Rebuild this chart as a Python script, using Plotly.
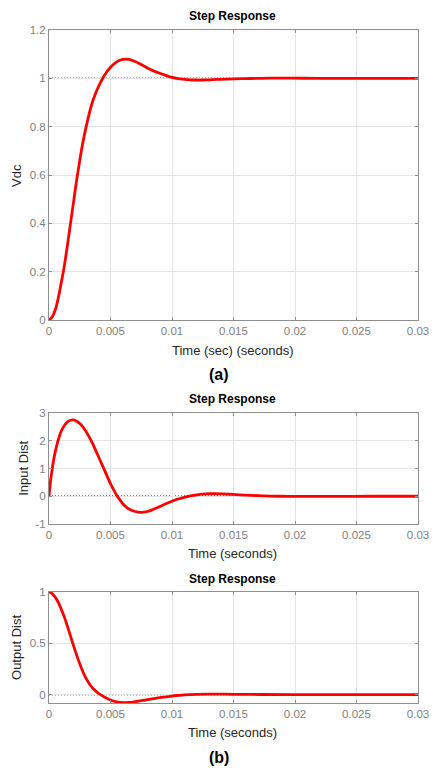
import plotly.graph_objects as go

# ---------------- data ----------------
# time in milliseconds (converted to seconds when plotting)
t_vdc_ms = [0, 0.25, 0.5, 0.75, 1.0, 1.25, 1.5, 1.75, 2.0, 2.25, 2.5, 2.75, 3.0,
            3.25, 3.5, 3.75, 4.0, 4.5, 5.0, 5.5, 6.0, 6.5, 7.0, 7.5, 8.0, 8.5, 9.0, 9.5,
            10.0, 10.5, 11.0, 11.5, 12.0, 12.5, 13.0, 14.0, 15.0, 16.0, 17.0,
            18.0, 20.0, 22.0, 25.0, 30.0]
vdc = [0, 0.012, 0.040, 0.09, 0.155, 0.225, 0.31, 0.40, 0.49, 0.58, 0.66, 0.733, 0.795,
       0.85, 0.897, 0.933, 0.963, 1.012, 1.046, 1.068, 1.078, 1.078, 1.07, 1.057, 1.043, 1.031, 1.021, 1.012,
       1.004, 0.999, 0.996, 0.994, 0.993, 0.993, 0.994, 0.996, 0.998, 0.999, 1.0,
       1.0005, 1.0005, 1.0, 1.0, 1.0]

t_in_ms = [0, 0.125, 0.25, 0.4, 0.6, 0.8, 1.0, 1.25, 1.5, 1.75, 2.0, 2.25, 2.5, 2.75,
           3.0, 3.25, 3.5, 3.75, 4.0, 4.25, 4.5, 4.75, 5.0, 5.25, 5.5, 5.75, 6.0,
           6.25, 6.5, 7.0, 7.5, 8.0, 8.5, 9.0, 9.5, 10.0, 10.5, 11.0, 11.5, 12.0,
           12.5, 13.0, 13.5, 14.0, 15.0, 16.0, 17.0, 18.0, 19.0, 20.0, 22.0, 24.0,
           26.0, 30.0]
input_dist = [0, 0.55, 0.95, 1.37, 1.78, 2.1, 2.35, 2.55, 2.68, 2.74, 2.75, 2.7, 2.62, 2.5,
              2.34, 2.15, 1.94, 1.7, 1.45, 1.2, 0.95, 0.7, 0.45, 0.24, 0.04, -0.12, -0.27,
              -0.38, -0.46, -0.55, -0.58, -0.55, -0.47, -0.37, -0.27, -0.18, -0.10, -0.04, 0.01, 0.05,
              0.08, 0.09, 0.09, 0.085, 0.065, 0.04, 0.02, 0.008, 0.0, -0.004, -0.005, -0.002,
              0.0, 0.0]

t_out_ms = [0, 0.25, 0.5, 0.75, 1.0, 1.25, 1.5, 1.75, 2.0, 2.25, 2.5, 2.75, 3.0, 3.25, 3.5,
            3.75, 4.0, 4.25, 4.5, 5.0, 5.5, 6.0, 6.5, 7.0, 7.5, 8.0, 8.5, 9.0, 9.5, 10.0, 10.5,
            11.0, 12.0, 13.0, 14.0, 15.0, 17.0, 20.0, 30.0]
output_dist = [1.0, 0.985, 0.95, 0.9, 0.83, 0.755, 0.665, 0.57, 0.475, 0.385, 0.30, 0.225, 0.16, 0.11, 0.07,
               0.04, 0.015, -0.005, -0.024, -0.053, -0.07, -0.078, -0.076, -0.069, -0.06, -0.05, -0.04, -0.03, -0.022, -0.014, -0.008,
               -0.003, 0.002, 0.004, 0.004, 0.003, 0.001, 0.0, 0.0]

final_values = [1.0, 0.0, 0.0]

x_tickvals = [0, 0.005, 0.01, 0.015, 0.02, 0.025, 0.03]
x_ticktext = ["0", "0.005", "0.01", "0.015", "0.02", "0.025", "0.03"]
y1_tickvals = [0, 0.2, 0.4, 0.6, 0.8, 1.0, 1.2]
y1_ticktext = ["0", "0.2", "0.4", "0.6", "0.8", "1", "1.2"]
y2_tickvals = [-1, 0, 1, 2, 3]
y2_ticktext = ["-1", "0", "1", "2", "3"]
y3_tickvals = [0, 0.5, 1]
y3_ticktext = ["0", "0.5", "1"]

titles = ["Step Response", "Step Response", "Step Response"]
x_titles = ["Time (sec) (seconds)", "Time (seconds)", "Time (seconds)"]
y_titles = ["Vdc", "Input Dist", "Output Dist"]
panel_labels = ["(a)", "(b)"]

# ---------------- figure ----------------
W, H = 440, 769
ML, MR, MT, MB = 49, 11, 30, 66
FONT = "Liberation Sans, Arial, sans-serif"
RED = "#ff0000"


def to_s(ms):
    return [v / 1000.0 for v in ms]


fig = go.Figure()
series = [(t_vdc_ms, vdc), (t_in_ms, input_dist), (t_out_ms, output_dist)]
for i, (tt, yy) in enumerate(series):
    sfx = "" if i == 0 else str(i + 1)
    fig.add_trace(go.Scatter(
        x=to_s(tt), y=yy, mode="lines",
        line=dict(color=RED, width=2.8, shape="spline", smoothing=1.0),
        xaxis="x" + sfx, yaxis="y" + sfx, showlegend=False, hoverinfo="skip"))

plot_h = H - MT - MB


def dom(top_px, bot_px):
    # pixel positions measured from top of page -> paper fractions
    return [(H - MB - bot_px) / plot_h, (H - MB - top_px) / plot_h]


domains = [dom(30, 320), dom(413, 524), dom(592, 703)]
y_ranges = [[0, 1.2], [-1, 3], [-0.082, 1.0]]
y_ticks = [(y1_tickvals, y1_ticktext), (y2_tickvals, y2_ticktext), (y3_tickvals, y3_ticktext)]

AX_COL = "#8f8f8f"
GRID_COL = "#e4e4e4"
TICK_FONT = dict(family=FONT, size=11.5, color="#7f7f7f")

layout = dict(
    width=W, height=H,
    margin=dict(l=ML, r=MR, t=MT, b=MB),
    paper_bgcolor="white", plot_bgcolor="white",
    showlegend=False,
)

for i in range(3):
    sfx = "" if i == 0 else str(i + 1)
    layout["xaxis" + sfx] = dict(
        domain=[0, 1], anchor="y" + sfx, range=[0, 0.03],
        tickvals=x_tickvals, ticktext=x_ticktext,
        showgrid=True, gridcolor=GRID_COL, gridwidth=1,
        showline=True, linecolor=AX_COL, linewidth=1, mirror="ticks",
        ticks="inside", ticklen=3, tickcolor=AX_COL,
        tickfont=TICK_FONT, zeroline=False, fixedrange=True,
        ticklabeloverflow="allow",
    )
    layout["yaxis" + sfx] = dict(
        domain=domains[i], anchor="x" + sfx, range=y_ranges[i],
        tickvals=y_ticks[i][0], ticktext=y_ticks[i][1],
        showgrid=True, gridcolor=GRID_COL, gridwidth=1,
        showline=True, linecolor=AX_COL, linewidth=1, mirror="ticks",
        ticks="inside", ticklen=3, tickcolor=AX_COL,
        tickfont=TICK_FONT, zeroline=False, fixedrange=True,
        ticklabeloverflow="allow",
    )

fig.update_layout(**layout)

# steady-state dotted lines
for i in range(3):
    sfx = "" if i == 0 else str(i + 1)
    fig.add_shape(type="line", xref="x" + sfx + " domain", yref="y" + sfx,
                  x0=0, x1=1, y0=final_values[i], y1=final_values[i],
                  line=dict(color="#000000", width=1.3, dash="1px,2px"), layer="below")


def px_x(x):
    return (x - ML) / (W - ML - MR)


def px_y(y):
    return (H - MB - y) / plot_h


annos = []
# titles
for title, ypx in zip(titles, [16, 399, 579]):
    annos.append(dict(text="<b>" + title + "</b>", x=px_x(238), y=px_y(ypx), xref="paper", yref="paper",
                      showarrow=False, xanchor="center", yanchor="middle",
                      font=dict(family=FONT, size=12, color="#000000")))
# x-axis titles
for xt, ypx in zip(x_titles, [350, 553, 732]):
    annos.append(dict(text=xt, x=px_x(238), y=px_y(ypx), xref="paper", yref="paper",
                      showarrow=False, xanchor="center", yanchor="middle",
                      font=dict(family=FONT, size=13, color="#262626")))
# y-axis titles
for yt, xpx, ypx in zip(y_titles, [15, 22, 15], [175, 468, 647]):
    annos.append(dict(text=yt, x=px_x(xpx), y=px_y(ypx), xref="paper", yref="paper",
                      showarrow=False, xanchor="center", yanchor="middle", textangle=-90,
                      font=dict(family=FONT, size=13, color="#262626")))
# panel labels
for pl, ypx in zip(panel_labels, [374, 757]):
    annos.append(dict(text="<b>" + pl + "</b>", x=px_x(224), y=px_y(ypx), xref="paper", yref="paper",
                      showarrow=False, xanchor="center", yanchor="middle",
                      font=dict(family=FONT, size=16, color="#000000")))

fig.update_layout(annotations=annos)
fig.write_html("out.html", config={"displayModeBar": False},
               post_script="document.body.style.margin='0';document.body.style.overflow='hidden';")
